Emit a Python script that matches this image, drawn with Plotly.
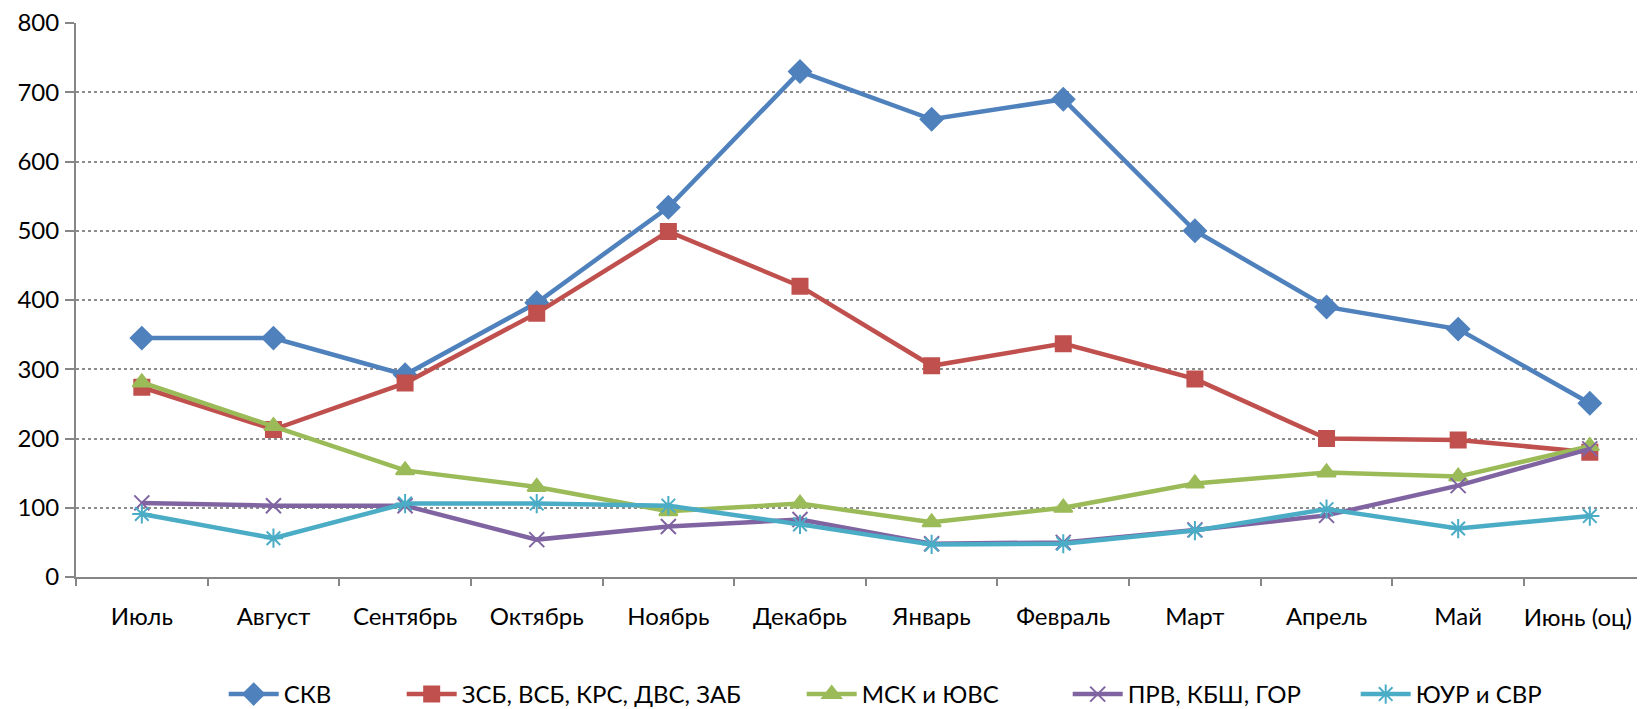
import plotly.graph_objects as go

months = ["Июль", "Август", "Сентябрь", "Октябрь", "Ноябрь", "Декабрь",
          "Январь", "Февраль", "Март", "Апрель", "Май", "Июнь (оц)"]

skv = [345, 345, 292, 396, 534, 730, 661, 690, 500, 390, 358, 251]
zsb = [274, 213, 280, 381, 499, 420, 305, 337, 286, 200, 198, 180]
msk = [281, 218, 154, 130, 95, 106, 79, 100, 135, 151, 145, 189]
prv = [107, 103, 103, 54, 73, 83, 48, 50, 68, 89, 132, 185]
yur = [91, 56, 106, 106, 103, 76, 47, 48, 67, 98, 70, 88]

series = [
    ("СКВ", skv, "#4F81BD", "diamond", 17),
    ("ЗСБ, ВСБ, КРС, ДВС, ЗАБ", zsb, "#C0504D", "square", 15),
    ("МСК и ЮВС", msk, "#9BBB59", "triangle-up", 16),
    ("ПРВ, КБШ, ГОР", prv, "#8064A2", "x-thin-open", 15),
    ("ЮУР и СВР", yur, "#4BACC6", "asterisk-open", 16),
]

L, R_PX, T, B = 68, 1645, 15, 576
legend_px = [222, 400, 800, 1066, 1354]
X_RANGE = [-0.5, 11.48]

fig = go.Figure()
for i, (name, vals, color, sym, size) in enumerate(series):
    lg = "legend" if i == 0 else f"legend{i+1}"
    fig.add_trace(go.Scatter(
        x=months, y=vals, name=name, mode="lines+markers",
        line=dict(color=color, width=4.5),
        marker=dict(symbol=sym, size=size, color=color,
                    line=dict(color=color, width=2)),
        legend=lg,
    ))

# empty helper trace so the overlay axis (last month's label) is drawn
fig.add_trace(go.Scatter(x=[None], y=[None], xaxis="x2", yaxis="y",
                         mode="lines", showlegend=False, hoverinfo="skip"))

layout_legends = {}
for i, px in enumerate(legend_px):
    key = "legend" if i == 0 else f"legend{i+1}"
    layout_legends[key] = dict(
        x=(px - L) / (R_PX - L) - 0.004, xanchor="left",
        y=(B - 695) / (B - T), yanchor="middle",
        orientation="h", font=dict(size=24), itemwidth=50,
        bgcolor="rgba(0,0,0,0)",
    )

fig.update_layout(
    width=1645, height=709,
    margin=dict(l=L, r=0, t=T, b=709 - B, pad=0),
    paper_bgcolor="white", plot_bgcolor="white",
    font=dict(family="Lato, Open Sans, sans-serif", size=24, color="black"),
    showlegend=True,
    **layout_legends,
    # overlay axis that carries only the last month's label, nudged left to stay inside the chart
    xaxis2=dict(
        overlaying="x", anchor="y", side="bottom", type="linear",
        range=X_RANGE, tickmode="array", tickvals=[len(months) - 1],
        ticktext=[months[-1]], tickangle=0, ticks="", showline=False,
        showgrid=False, zeroline=False, automargin=False,
        ticklabelshift=-12, ticklabelstandoff=24,
    ),
)
fig.layout.xaxis.update(
    type="category", range=X_RANGE, automargin=False,
    tickmode="array", tickvals=months,
    ticktext=months[:-1] + [""], tickangle=0,
    showline=True, linecolor="#868686", linewidth=2,
    ticks="outside", tickson="boundaries", ticklen=7, tickcolor="#868686",
    tickwidth=2, showgrid=False, ticklabelstandoff=17,
)
fig.update_yaxes(
    range=[0, 800], dtick=100, automargin=False, ticklabeloverflow="allow",
    showline=True, linecolor="#868686", linewidth=2,
    ticks="outside", ticklen=9, tickcolor="#868686", tickwidth=2,
    showgrid=True, gridcolor="#8c8c8c", griddash="dot", gridwidth=1.5,
    zeroline=False, ticklabelstandoff=1,
)

fig.write_html("out.html")
